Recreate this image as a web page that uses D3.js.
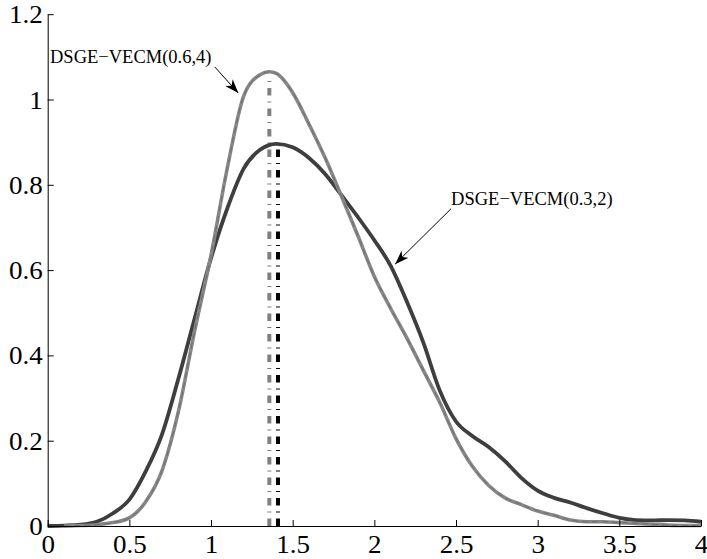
<!DOCTYPE html>
<html>
<head>
<meta charset="utf-8">
<script src="https://cdn.jsdelivr.net/npm/d3@7/dist/d3.min.js"></script>
<style>
  html, body { margin: 0; padding: 0; background: #fff; }
  svg { display: block; }
  svg text { font-family: "Liberation Serif", "Times New Roman", Times, serif; }
</style>
</head>
<body>
<svg id="chart" width="707" height="559"></svg>
<script>
// ---- data ----
const xTicks = [0, 0.5, 1, 1.5, 2, 2.5, 3, 3.5, 4];
const yTicks = [0, 0.2, 0.4, 0.6, 0.8, 1, 1.2];

const darkX = [0, 0.1, 0.2, 0.3, 0.4, 0.5, 0.6, 0.7, 0.8, 0.9, 1.0, 1.1, 1.2, 1.3, 1.4, 1.5, 1.6, 1.7, 1.8, 1.9, 2.0, 2.1, 2.2, 2.3, 2.4, 2.5, 2.6, 2.7, 2.8, 2.9, 3.0, 3.1, 3.2, 3.3, 3.4, 3.5, 3.6, 3.7, 3.8, 3.9, 4.0];
const darkY = [0.000, 0.001, 0.003, 0.010, 0.030, 0.062, 0.128, 0.215, 0.345, 0.487, 0.628, 0.745, 0.838, 0.882, 0.896, 0.888, 0.863, 0.825, 0.775, 0.724, 0.670, 0.610, 0.525, 0.430, 0.318, 0.245, 0.211, 0.185, 0.152, 0.113, 0.083, 0.066, 0.055, 0.042, 0.030, 0.019, 0.014, 0.013, 0.014, 0.013, 0.010];

const grayX = [0.1, 0.2, 0.3, 0.4, 0.5, 0.6, 0.7, 0.8, 0.9, 1.0, 1.1, 1.2, 1.3, 1.357, 1.4, 1.5, 1.6, 1.7, 1.8, 1.9, 2.0, 2.1, 2.2, 2.3, 2.4, 2.5, 2.6, 2.7, 2.8, 2.9, 3.0, 3.1, 3.2, 3.3, 3.4, 3.5, 3.6, 3.7, 3.8, 3.9, 4.0];
const grayY = [0.000, 0.001, 0.003, 0.008, 0.019, 0.057, 0.130, 0.268, 0.458, 0.635, 0.840, 1.008, 1.058, 1.065, 1.061, 1.016, 0.942, 0.862, 0.772, 0.680, 0.585, 0.510, 0.440, 0.365, 0.290, 0.205, 0.140, 0.095, 0.066, 0.050, 0.035, 0.025, 0.014, 0.010, 0.010, 0.008, 0.006, 0.004, 0.002, 0.001, 0.001];

const modeX = [1.357, 1.410];
const modeTop = [1.05, 0.886];

const labels = ["DSGE\u2212VECM(0.6,4)", "DSGE\u2212VECM(0.3,2)"];
const labelAt = [[0.014, 1.086], [2.47, 0.752]];
const arrowFrom = [[1.024, 1.076], [2.47, 0.744]];
const arrowTo = [[1.167, 1.015], [2.127, 0.614]];

// ---- layout ----
const svg = d3.select("#chart");
const x = d3.scaleLinear().domain([0, 4]).range([47.7, 701]);
const y = d3.scaleLinear().domain([0, 1.2]).range([526, 14.2]);
const serif = "'Liberation Serif', 'Times New Roman', Times, serif";

// arrow marker
svg.append("defs").append("marker")
  .attr("id", "arrow").attr("viewBox", "0 0 14 10")
  .attr("refX", 14).attr("refY", 5)
  .attr("markerWidth", 14).attr("markerHeight", 10)
  .attr("markerUnits", "userSpaceOnUse")
  .attr("orient", "auto")
  .append("path").attr("d", "M0,0 L14,5 L0,10 L4,5 Z").attr("fill", "#000");

const line = d3.line().x(d => x(d[0])).y(d => y(d[1])).curve(d3.curveMonotoneX);
const dark = darkX.map((v, i) => [v, darkY[i]]);
const gray = grayX.map((v, i) => [v, grayY[i]]);

// vertical mode lines
const modeColors = ["#808080", "#000000"];
modeX.forEach((m, i) => {
  svg.append("line")
    .attr("x1", x(m)).attr("x2", x(m))
    .attr("y1", y(0)).attr("y2", y(modeTop[i]))
    .attr("stroke", modeColors[i]).attr("stroke-width", 4)
    .attr("stroke-dasharray", "7.5,6,1,6");
});

// curves
svg.append("path").attr("d", line(dark)).attr("fill", "none")
  .attr("stroke", "#3e3e3e").attr("stroke-width", 3.8).attr("stroke-linejoin", "round");
svg.append("path").attr("d", line(gray)).attr("fill", "none")
  .attr("stroke", "#878787").attr("stroke-width", 3.6).attr("stroke-linejoin", "round");
svg.append("path").attr("d", line(gray)).attr("fill", "none")
  .attr("stroke", "#6e6e6e").attr("stroke-width", 1).attr("stroke-dasharray", "6,4");

// axes
const xAxis = d3.axisBottom(x).tickValues(xTicks).tickSize(-6).tickSizeOuter(0)
  .tickFormat(d => d3.format("")(d));
const yAxis = d3.axisLeft(y).tickValues(yTicks).tickSize(-6).tickSizeOuter(0)
  .tickFormat(d => d3.format("")(d));

const gx = svg.append("g").attr("transform", `translate(0,${y(0)})`).call(xAxis);
const gy = svg.append("g").attr("transform", `translate(${x(0)},0)`).call(yAxis);
[gx, gy].forEach(g => {
  g.attr("font-family", null).attr("font-size", null);
  g.select(".domain").attr("stroke", "#000").attr("stroke-width", 1);
  g.selectAll(".tick line").attr("stroke", "#000").attr("stroke-width", 1);
  g.selectAll(".tick text").attr("fill", "#000")
    .style("font-family", serif).style("font-size", "25px");
});
gx.selectAll(".tick text").attr("y", 9).attr("dy", "0.71em");
gy.selectAll(".tick text").attr("x", -5).attr("dy", "0.34em");
svg.selectAll(".tick text").each(function () {
  const w = this.getComputedTextLength();
  d3.select(this).attr("textLength", w * 1.08).attr("lengthAdjust", "spacingAndGlyphs");
});

// annotations
labels.forEach((t, i) => {
  svg.append("text")
    .attr("x", x(labelAt[i][0])).attr("y", y(labelAt[i][1]))
    .style("font-family", serif).style("font-size", "18.5px")
    .attr("fill", "#000").text(t);
  svg.append("line")
    .attr("x1", x(arrowFrom[i][0])).attr("y1", y(arrowFrom[i][1]))
    .attr("x2", x(arrowTo[i][0])).attr("y2", y(arrowTo[i][1]))
    .attr("stroke", "#000").attr("stroke-width", 1)
    .attr("marker-end", "url(#arrow)");
});
</script>
</body>
</html>
